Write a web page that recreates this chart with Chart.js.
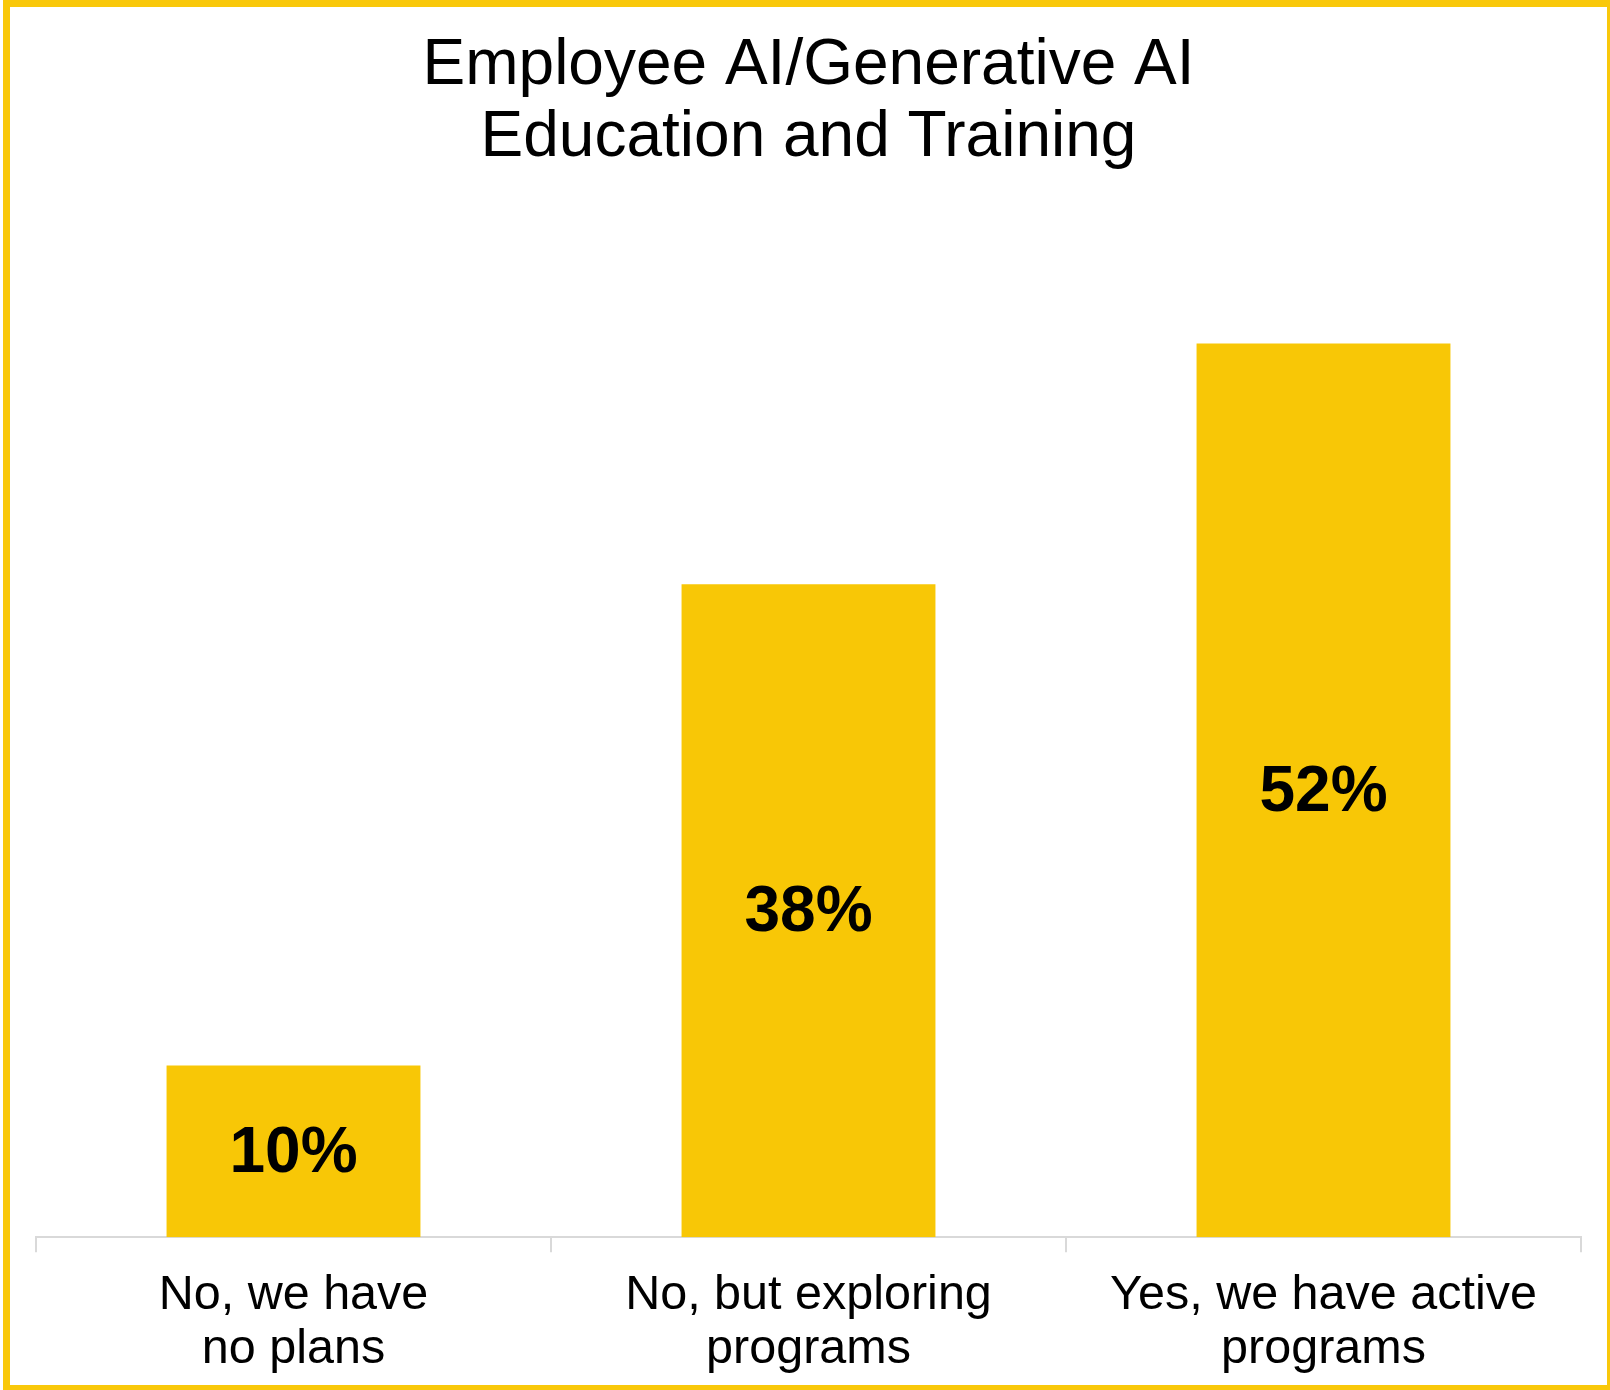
<!DOCTYPE html>
<html>
<head>
<meta charset="utf-8">
<script src="https://cdn.jsdelivr.net/npm/chart.js@4/dist/chart.umd.min.js"></script>
<style>
  html, body { margin: 0; padding: 0; background: #ffffff; overflow: hidden; }
  #wrap { position: relative; width: 1610px; height: 1390px; }
  #frame {
    position: absolute; left: 3px; top: 0; width: 1611px; height: 1392px;
    box-sizing: border-box; border: 7px solid #F9C80A; pointer-events: none;
  }
  canvas { position: absolute; left: 0; top: 0; }
</style>
</head>
<body>
<div id="wrap">
  <canvas id="chart" width="1610" height="1390"></canvas>
  <div id="frame"></div>
</div>
<script>
// Survey answers and their shares (%)
const categories = [
  ["No, we have", "no plans"],
  ["No, but exploring", "programs"],
  ["Yes, we have active", "programs"]
];
const shares = [10, 38, 52];
const titleLines = ["Employee AI/Generative AI", "Education and Training"];

const FONT = "'Liberation Sans', Arial, Helvetica, sans-serif";
const BAR_COLOR = "#F8C706";

// Writes each bar's value in the middle of the bar
const centerLabels = {
  id: "centerLabels",
  afterDatasetsDraw(chart) {
    const ctx = chart.ctx;
    const meta = chart.getDatasetMeta(0);
    ctx.save();
    ctx.font = "bold 64px " + FONT;
    ctx.fillStyle = "#000000";
    ctx.textAlign = "center";
    ctx.textBaseline = "middle";
    meta.data.forEach((bar, i) => {
      const v = chart.data.datasets[0].data[i];
      const y = (bar.y + bar.base) / 2;
      ctx.fillText(v + "%", bar.x, y + 3);
    });
    ctx.restore();
  }
};

new Chart(document.getElementById("chart"), {
  type: "bar",
  data: {
    labels: categories,
    datasets: [{
      data: shares,
      backgroundColor: BAR_COLOR,
      borderWidth: 0,
      categoryPercentage: 1,
      barPercentage: 0.493
    }]
  },
  options: {
    responsive: false,
    animation: false,
    devicePixelRatio: 1,
    layout: { padding: { left: 36, right: 29, top: 0, bottom: -3 } },
    plugins: {
      legend: { display: false },
      tooltip: { enabled: false },
      title: {
        display: true,
        text: titleLines,
        color: "#000000",
        font: { family: FONT, size: 64, weight: "normal", lineHeight: 1.125 },
        padding: { top: 30, bottom: 32 }
      }
    },
    scales: {
      x: {
        offset: true,
        border: { display: true, color: "#D9D9D9", width: 2 },
        grid: {
          offset: true,
          drawOnChartArea: false,
          drawTicks: true,
          tickLength: 15,
          color: "#D9D9D9",
          lineWidth: 2
        },
        ticks: {
          color: "#000000",
          font: { family: FONT, size: 48.5, lineHeight: 1.12 },
          padding: 16,
          maxRotation: 0,
          autoSkip: false
        }
      },
      y: {
        display: false,
        min: 0,
        max: 60
      }
    }
  },
  plugins: [centerLabels]
});
</script>
</body>
</html>
